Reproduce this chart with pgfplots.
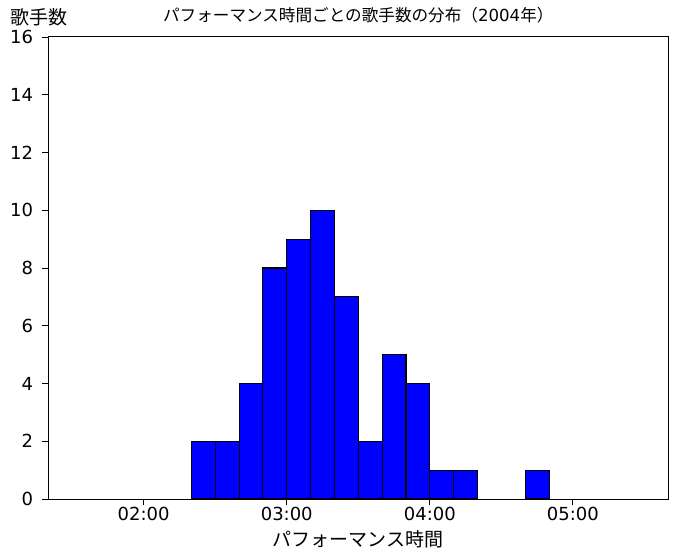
\documentclass[border=0pt]{standalone}
\usepackage{fontspec}
\setmainfont{Noto Sans CJK JP}
\newfontfamily\dejavu{DejaVu Sans}
\usepackage{pgfplots}
\usepackage{pgfplotstable}
\pgfplotsset{compat=1.18}

% bins of 10 s, left edge and count; last row only closes the bin before it
\pgfplotstableread{
left count
140 2
150 2
160 4
170 8
180 9
190 10
200 7
210 2
220 5
230 4
240 1
250 1
260 0
}\durationsA
\pgfplotstableread{
left count
280 1
290 0
}\durationsB

\begin{document}
\begin{tikzpicture}
\useasboundingbox (-48.3pt,-61pt) rectangle (629.7pt,499pt);
\begin{axis}[
    scale only axis,
    width=620pt, height=462pt,
    at={(0,0)}, anchor=south west,
    xmin=80, xmax=340,
    ymin=0, ymax=16,
    xtick={120,180,240,300},
    xticklabels={02:00,03:00,04:00,05:00},
    ytick={0,2,...,16},
    xtick pos=left, ytick pos=left,
    tick align=outside,
    major tick length=6pt,
    tick style={black, line width=0.9pt},
    axis line style={black, line width=1pt},
    /pgf/number format/assume math mode=true,
    tick label style={font=\dejavu\fontsize{18}{20}\selectfont},
    xticklabel style={anchor=base, yshift=-15pt},
    yticklabel style={anchor=east, inner sep=0pt, xshift=-9pt},
    title={パフォーマンス時間ごとの歌手数の分布（{\dejavu 2004}年）},
    title style={font=\fontsize{16.6}{19}\selectfont, at={(0.5,1)}, anchor=base, yshift=9pt},
    xlabel={パフォーマンス時間},
    xlabel style={font=\fontsize{19}{21}\selectfont, at={(0.5,0)}, anchor=base, yshift=-47pt},
    ylabel={歌手数},
    ylabel style={font=\fontsize{19}{21}\selectfont, rotate=-90, at={(0,1)}, anchor=base, xshift=-9pt, yshift=12pt},
]
\addplot[ybar interval, fill=blue, draw=black, line width=1.1pt]
    table[x=left, y=count] {\durationsA};
\addplot[ybar interval, fill=blue, draw=black, line width=1.1pt]
    table[x=left, y=count] {\durationsB};
\end{axis}
\end{tikzpicture}
\end{document}
